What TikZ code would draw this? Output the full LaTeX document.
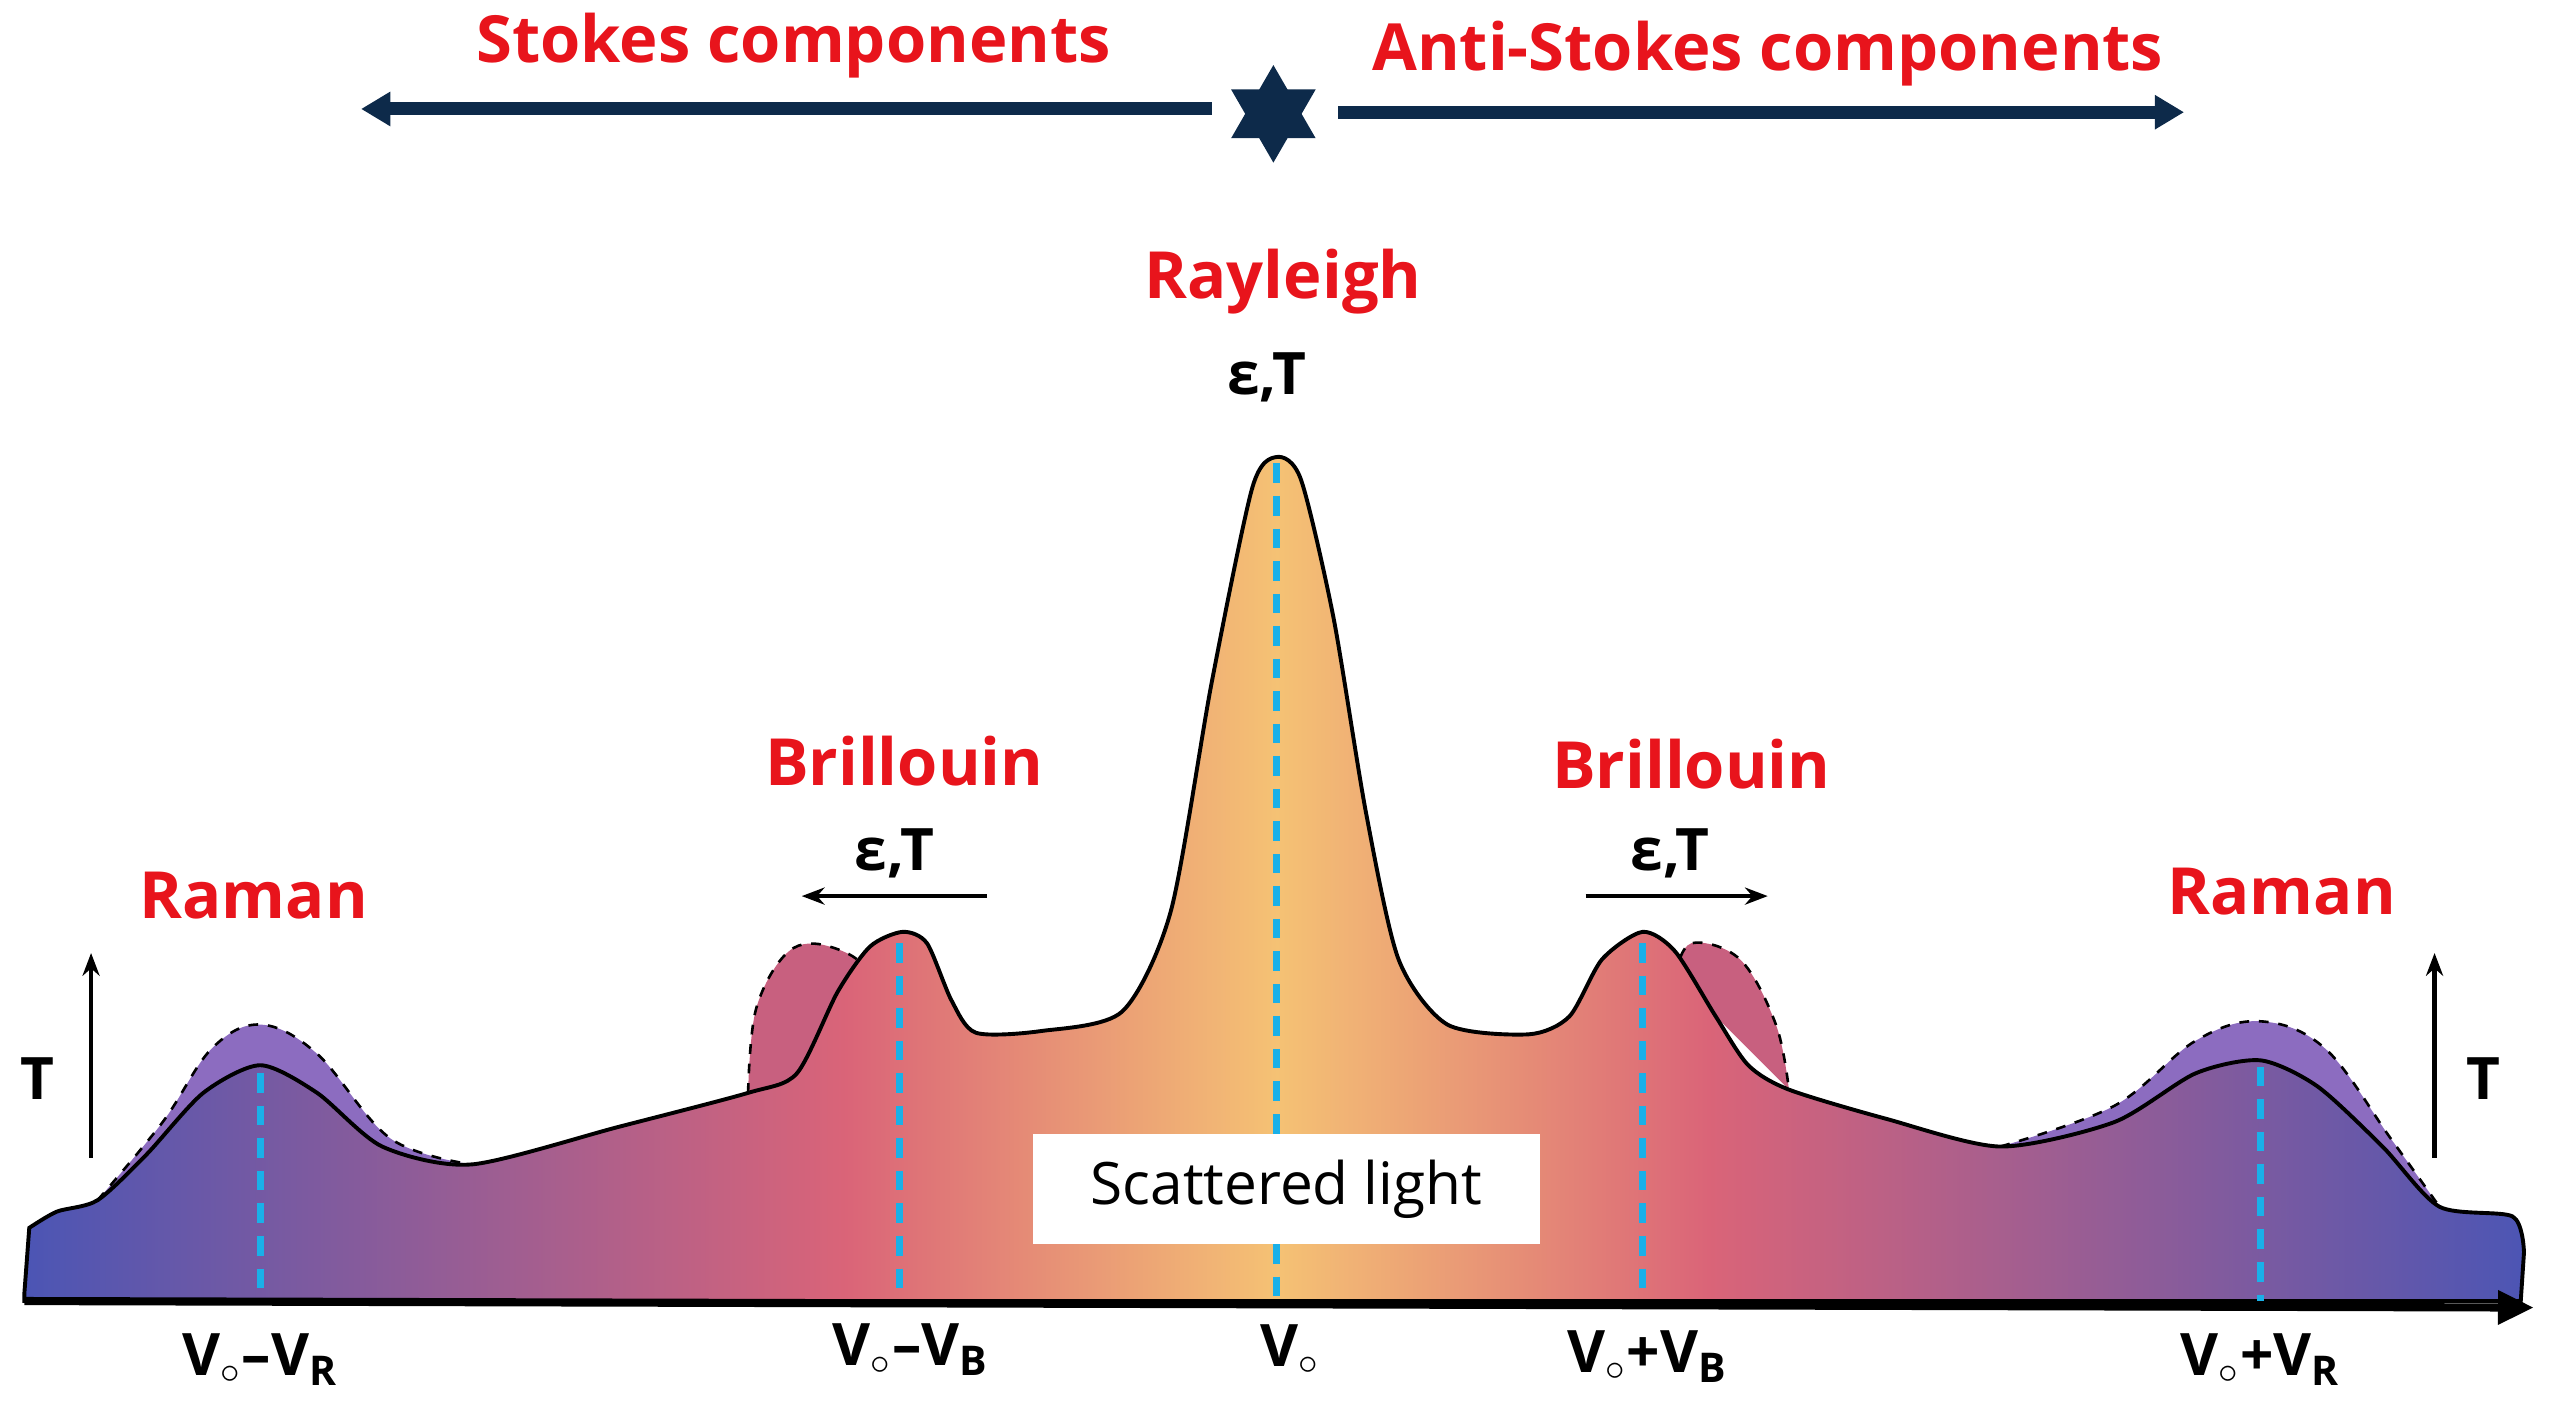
\documentclass[tikz,border=0pt]{standalone}
\usepackage{fontspec}
\setmainfont{Open Sans}
\usetikzlibrary{arrows.meta}
\definecolor{navy}{HTML}{0D2A4A}
\definecolor{lred}{HTML}{E8141C}
\definecolor{cy}{HTML}{1AB0E8}
\definecolor{cb}{HTML}{4A55B5}
\definecolor{cp}{HTML}{DA6478}
\definecolor{co}{HTML}{F5C274}
\definecolor{lobeP}{HTML}{8C6CC0}
\definecolor{lobeK}{HTML}{C8607F}
\begin{document}
\begin{tikzpicture}[x=0.5pt,y=-0.5pt,
  lab/.style={text=lred,font=\bfseries\fontsize{20}{22}\selectfont},
  blk/.style={font=\bfseries\fontsize{18}{20}\selectfont},
  cyl/.style={cy,line width=2.2pt,dash pattern=on 6pt off 4pt},
  topar/.style={navy,line width=4pt,-{Triangle[length=9pt,width=10pt]}},
  smar/.style={line width=1.4pt,-{Stealth[length=7pt]}}]
\useasboundingbox (0,0) rectangle (1568,868);
% lobes
\draw[fill=lobeP,dashed,line width=0.8pt] plot[smooth,tension=0.6] coordinates{(60,738)(100,690)(130,645)(160,630)(195,648)(240,700)(290,716)};
\draw[fill=lobeP,dashed,line width=0.8pt] plot[smooth,tension=0.6] coordinates{(1230,705)(1300,680)(1350,640)(1390,628)(1430,645)(1470,700)(1500,742)};
\draw[fill=lobeK,dashed,line width=0.8pt] plot[smooth,tension=0.6] coordinates{(460,672)(465,620)(485,585)(510,582)(535,600)(540,650)};
\draw[fill=lobeK,dashed,line width=0.8pt] plot[smooth,tension=0.6] coordinates{(1030,600)(1040,580)(1070,590)(1092,630)(1100,670)};
% main
\def\mainpath{(15,800) -- (15,795) -- plot[smooth,tension=0.45] coordinates{(18,755)(35,745)(60,738)(90,710)(125,672)(160,655)(195,672)(235,705)(290,716)(380,693)(460,672)(490,660)(515,610)(535,582)(555,573)(570,580)(585,615)(600,635)(640,634)(690,622)(720,560)(745,420)(770,300)(785,281)(800,295)(820,380)(840,500)(860,590)(890,630)(940,636)(965,625)(985,590)(1010,573)(1030,585)(1055,625)(1075,655)(1100,670)(1160,688)(1230,705)(1300,690)(1350,660)(1390,652)(1425,668)(1465,705)(1500,742)(1545,748)(1552,770)} -- (1550,800) -- cycle}
\begin{scope}
\clip \mainpath;
\shade[left color=cb,right color=cp] (10,250) rectangle (521,810);
\shade[left color=cp,right color=co] (520,250) rectangle (786,810);
\shade[left color=co,right color=cp] (785,250) rectangle (1051,810);
\shade[left color=cp,right color=cb] (1050,250) rectangle (1560,810);
\end{scope}
\draw[line width=1.2pt] \mainpath;
% dashed cyan
\draw[cyl] (160,660) -- (160,800);
\draw[cyl] (553,580) -- (553,800);
\draw[cyl] (785,285) -- (785,800);
\draw[cyl] (1010,580) -- (1010,800);
\draw[cyl] (1390,656) -- (1390,800);
% axis
\coordinate (ax0) at (15,800); \coordinate (ax1) at (1558,804);
\draw[line width=2.5pt,-{Triangle[length=11pt,width=10pt]}] (ax0) -- (ax1);
% top
\node[lab] (st) at (488,28) {Stokes components};
\node[lab] (ast) at (1087,33) {Anti-Stokes components};
\coordinate (sl0) at (745,67); \coordinate (sl1) at (222,67);
\coordinate (sr0) at (823,69); \coordinate (sr1) at (1343,69);
\draw[topar] (sl0) -- (sl1);
\draw[topar] (sr0) -- (sr1);
\fill[navy] (783,40) -- (809,85) -- (757,85) -- cycle;
\fill[navy] (783,100) -- (809,55) -- (757,55) -- cycle;
% labels
\node[lab] (ray) at (789,173) {Rayleigh};
\node[blk] (et0) at (779,232) {ε,T};
\node[lab] (bl) at (556,468) {Brillouin};
\node[lab] (br) at (1040,470) {Brillouin};
\node[lab] (rl) at (156,551) {Raman};
\node[lab] (rr) at (1403,548) {Raman};
\node[blk] (et1) at (550,525) {ε,T};
\node[blk] (et2) at (1027,525) {ε,T};
\coordinate (a1s) at (607,551); \coordinate (a1e) at (493,551);
\coordinate (a2s) at (975,551); \coordinate (a2e) at (1087,551);
\draw[smar] (a1s) -- (a1e);
\draw[smar] (a2s) -- (a2e);
\coordinate (t1s) at (56,712); \coordinate (t1e) at (56,586);
\coordinate (t2s) at (1497,712); \coordinate (t2e) at (1497,586);
\draw[smar] (t1s) -- (t1e);
\draw[smar] (t2s) -- (t2e);
\node[blk] (tl) at (23,663) {T};
\node[blk] (tr) at (1527,663) {T};
\node[fill=white,minimum width=156pt,minimum height=34pt,font=\fontsize{18}{20}\selectfont] (sc) at (791,731) {Scattered light};
% bottom
\node[blk] (b1) at (160,836) {V$_\circ$–V$_{\mathbf R}$};
\node[blk] (b2) at (560,830) {V$_\circ$–V$_{\mathbf B}$};
\node[blk] (b3) at (793,830) {V$_\circ$};
\node[blk] (b4) at (1013,834) {V$_\circ$+V$_{\mathbf B}$};
\node[blk] (b5) at (1390,836) {V$_\circ$+V$_{\mathbf R}$};
\end{tikzpicture}
\end{document}
